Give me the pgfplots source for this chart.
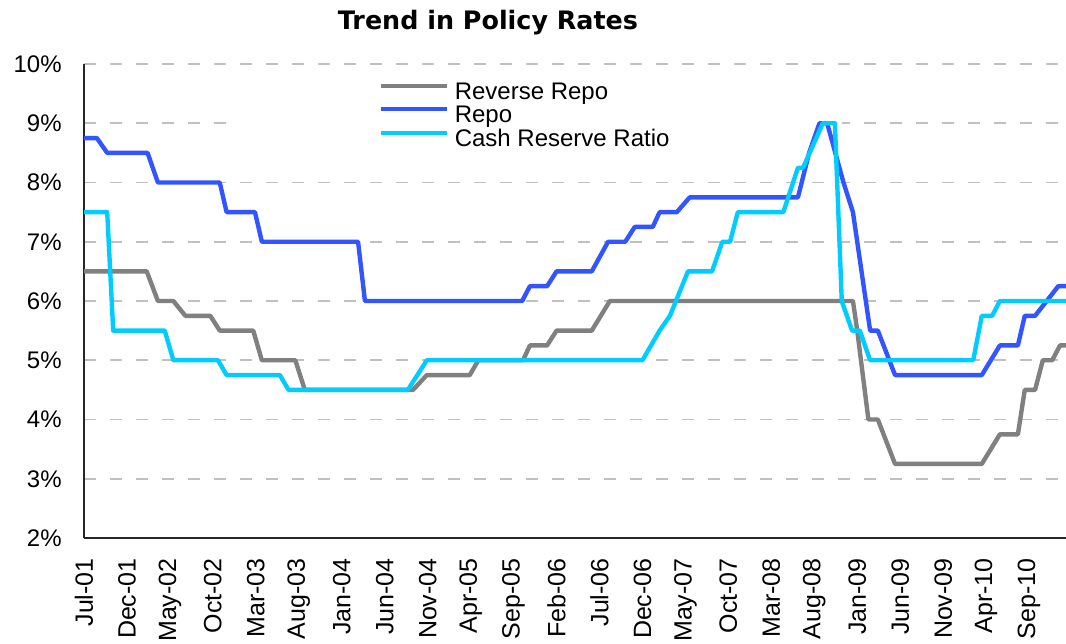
\documentclass[border=0pt]{standalone}
\usepackage{pgfplots}
\pgfplotsset{compat=1.18}
\usepackage{pgfplotstable}
\usepackage{fontspec}
\setmainfont{Liberation Sans}
\newfontfamily\titlefont{DejaVu Sans}
\definecolor{rrgray}{RGB}{128,128,128}
\definecolor{repoblue}{RGB}{51,85,255}
\definecolor{crrcyan}{RGB}{0,204,255}
\definecolor{gridgray}{RGB}{192,192,192}

\pgfplotstableread{
m v
0 6.5
7.3 6.5
8.6 6.0
10.4 6.0
11.8 5.75
14.7 5.75
15.8 5.5
19.7 5.5
20.7 5.0
24.6 5.0
25.7 4.5
38.3 4.5
39.9 4.75
44.9 4.75
45.9 5.0
51.1 5.0
51.9 5.25
53.9 5.25
55.0 5.5
59.1 5.5
61.2 6.0
89.5 6.0
90.0 5.5
91.3 4.0
92.4 4.0
94.4 3.25
104.5 3.25
106.6 3.75
108.7 3.75
109.5 4.5
110.7 4.5
111.6 5.0
112.7 5.0
113.6 5.25
115 5.25
}\revrepo

\pgfplotstableread{
m v
0 8.75
1.5 8.75
2.7 8.5
7.4 8.5
8.6 8.0
15.8 8.0
16.6 7.5
19.9 7.5
20.7 7.0
31.9 7.0
32.7 6.0
51.0 6.0
51.9 6.25
53.9 6.25
55.0 6.5
59.1 6.5
61.0 7.0
63.0 7.0
64.1 7.25
66.2 7.25
67.0 7.5
69.0 7.5
70.5 7.75
83.1 7.75
84.4 8.5
85.6 9.0
86.5 9.0
88.4 8.0
89.5 7.5
91.5 5.5
92.4 5.5
94.4 4.75
104.5 4.75
106.6 5.25
108.7 5.25
109.5 5.75
110.7 5.75
113.4 6.25
115 6.25
}\repo

\pgfplotstableread{
m v
0 7.5
2.7 7.5
3.4 5.5
9.4 5.5
10.4 5.0
15.6 5.0
16.6 4.75
22.8 4.75
23.8 4.5
37.7 4.5
39.9 5.0
65.0 5.0
67.0 5.5
68.2 5.75
70.3 6.5
73.1 6.5
74.3 7.0
75.2 7.0
76.1 7.5
81.4 7.5
83.1 8.25
83.7 8.25
86.0 9.0
87.4 9.0
88.2 6.0
89.4 5.5
90.3 5.5
91.5 5.0
103.5 5.0
104.5 5.75
105.7 5.75
106.6 6.0
115 6.0
}\crr

\begin{document}
\begin{tikzpicture}
\begin{axis}[
  at={(0,0)}, anchor=south west,
  scale only axis, width=491bp, height=237bp,
  xmin=0, xmax=114.3, ymin=2, ymax=10,
  axis lines*=left,
  axis line style={line width=0.8bp, black!85},
  xtick={0,5,...,110},
  xticklabels={Jul-01,Dec-01,May-02,Oct-02,Mar-03,Aug-03,Jan-04,Jun-04,Nov-04,Apr-05,Sep-05,Feb-06,Jul-06,Dec-06,May-07,Oct-07,Mar-08,Aug-08,Jan-09,Jun-09,Nov-09,Apr-10,Sep-10},
  ytick={2,...,10},
  yticklabel={\pgfmathprintnumber{\tick}\%},
  /pgf/number format/assume math mode=true,
  major tick length=0pt,
  xticklabel style={rotate=90, anchor=east, inner sep=0pt, font=\fontsize{12.5bp}{14bp}\selectfont},
  xticklabel shift=10bp,
  yticklabel style={anchor=east, inner sep=0pt, font=\fontsize{12bp}{14bp}\selectfont},
  yticklabel shift=11bp,
  ymajorgrids,
  major grid style={draw=gridgray, line width=0.8bp, dash pattern=on 6bp off 7bp},
  legend style={draw=none, fill=none, at={(rel axis cs:0.2994,0.965)}, anchor=north west,
    inner sep=0pt, row sep=0pt, column sep=3bp,
    nodes={inner sep=0pt, text height=9bp, text depth=2.75bp, font=\fontsize{12bp}{14bp}\selectfont}},
  legend cell align=left,
  legend image code/.code={\draw[#1] (0bp,3.5bp) -- (33bp,3.5bp);},
  every axis plot/.append style={line width=2.2bp, line join=round},
]
\fill[white] (axis cs:16.8,8.7) rectangle (axis cs:88.2,9.3);
\addplot[rrgray] table[x=m,y=v] {\revrepo};
\addlegendentry{Reverse Repo}
\addplot[repoblue] table[x=m,y=v] {\repo};
\addlegendentry{Repo}
\addplot[crrcyan] table[x=m,y=v] {\crr};
\addlegendentry{Cash Reserve Ratio}
\end{axis}
\node[font=\titlefont\bfseries\fontsize{12.7bp}{15bp}\selectfont] at (202bp,257.5bp) {Trend in Policy Rates};
\pgfresetboundingbox
\path (-42bp,-53bp) rectangle (491bp,269bp);
\end{tikzpicture}
\end{document}
